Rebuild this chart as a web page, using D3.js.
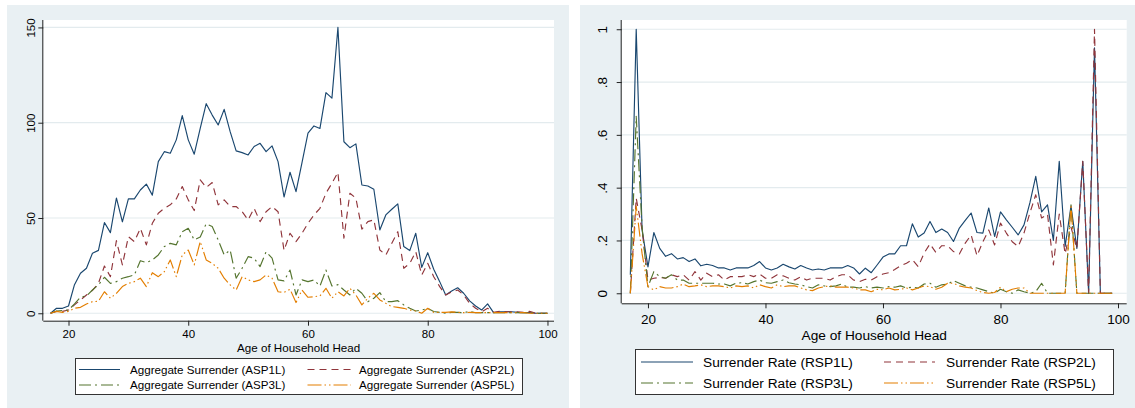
<!DOCTYPE html>
<html>
<head>
<meta charset="utf-8">
<script src="https://cdn.jsdelivr.net/npm/d3@7"></script>
<style>
html,body{margin:0;padding:0;background:#fff;}
svg{display:block;}
</style>
</head>
<body>
<svg id="chart" width="1135" height="408"></svg>
<script>
// ---------------- DATA ----------------
const agesL = [17,18,19,20,21,22,23,24,25,26,27,28,29,30,31,32,33,34,35,36,37,38,39,40,41,42,43,44,45,46,47,48,49,50,51,52,53,54,55,56,57,58,59,60,61,62,63,64,65,66,67,68,69,70,71,72,73,74,75,76,77,78,79,80,81,82,83,84,85,86,87,88,89,90,91,92,93,94,95,96,97,98,99,100];
const ASP1L = [0,2.6,2.6,3.8,15,21,23.6,31.5,33,47.6,42.3,60.5,48,
  60,60,64.7,67.8,62,79.6,84.8,84,91,103.7,
  91,83.5,97,110,104,98.8,107,95.3,85.2,84.3,
  83.1,87.5,89.2,84.8,87.8,79.6,61,74,63.8,79,
  94.5,98.3,97,115.8,112.9,150,90,86.9,88.9,67.3,
  66.8,65.1,43.7,51.6,54.6,57.4,35,32.9,42,24.1,
  31.8,23.1,16.6,9.6,11.7,13.4,10.5,6.5,3.8,1.7,
  4.9,0.3,0.8,0.8,0.8,0.5,0.3,0.3,0,0,0];
const ASP2L = [0,1,1,1.7,4.4,7,9.6,12,15.7,24.8,19.2,38.1,25.4,
  40.2,37.6,44.6,35.9,47.2,52.5,55.1,56.9,60,66.5,
  59.5,53.9,70,66,68.6,56.9,59.5,56,56,53.3,
  49,55.1,48.1,53.3,56,53.3,33,42,37.6,42,
  47.2,51.6,55.1,63,68.2,74,39.4,63,60.4,44.1,
  48.1,49,33.2,30.6,36.7,42.8,23.6,26.2,32.3,20.1,
  26.2,19.2,14,9.6,11.3,12.2,9.6,5.2,2.6,0.8,
  2.6,0.5,1,0.8,0.8,0.8,0.5,1,0,0,0];
const ASP3L = [0,1.2,1.5,1.7,4.9,8.4,9.1,12.2,14.9,18.9,15.7,16.6,18.4,
  19.2,20.1,27.6,26.6,28,30.6,35,36.7,35.9,42.8,
  44.6,38.5,40,47,45.5,38.5,30.6,33.2,18.4,23.6,
  29.7,28.9,24.5,32.3,28.9,17.5,17,22.7,9.6,17.5,
  16.6,17.5,14.3,22.7,14.3,15,12.2,9.6,13.1,10.5,
  6.1,7.9,10.8,6.1,6.1,6.6,4.4,2.6,1.2,1.7,
  2.6,0.9,0.5,0,0.5,0.5,0.3,1,0.3,0.3,
  0.3,0.3,0.3,0.3,0.3,0.3,0.3,0.3,0,0,0];
const ASP5L = [0,1,0.5,1,2.6,3.1,4.9,6.1,6.3,11.3,7.9,10.5,14,
  15.7,16.6,18.4,14,21.3,19.2,21.8,28,19.2,30.6,
  33.2,25.4,37.6,28,26.2,23.6,18.4,14.9,12.2,19.2,
  17.5,16.6,17.5,20.1,18.4,11.3,11,12.6,5.6,12.2,
  8.4,8.7,9.1,13.1,7.9,11.3,9.1,13.1,9.6,4.4,
  7.9,10.5,7,5.2,3.5,3.1,2.6,1.7,1.2,0,
  2.6,0.5,0.5,0.5,0.7,0.5,0.3,0.5,0.3,0.3,
  0.3,0.3,0.3,0.3,0.3,0.3,0.3,0,0,0,0];

const agesR = [17,18,19,20,21,22,23,24,25,26,27,28,29,30,31,32,33,34,35,36,37,38,39,40,41,42,43,44,45,46,47,48,49,50,51,52,53,54,55,56,57,58,59,60,61,62,63,64,65,66,67,68,69,70,71,72,73,74,75,76,77,78,79,80,81,82,83,84,85,86,87,88,89,90,91,92,93,94,95,96,97,98,99];
const RSP1L = [0.07,1.0,0.24,0.10,0.23,0.17,0.14,0.15,0.13,0.135,0.12,0.13,0.104,
  0.11,0.105,0.096,0.096,0.088,0.096,0.096,0.096,0.105,0.12,
  0.096,0.088,0.096,0.11,0.10,0.092,0.105,0.096,0.088,0.092,
  0.088,0.096,0.096,0.096,0.105,0.096,0.073,0.095,0.078,0.107,
  0.137,0.149,0.149,0.18,0.18,0.263,0.213,0.228,0.272,0.23,
  0.243,0.23,0.196,0.247,0.276,0.304,0.23,0.228,0.323,0.215,
  0.308,0.278,0.25,0.221,0.259,0.342,0.443,0.308,0.335,0.2,
  0.5,0.177,0.33,0.17,0.5,0,0.93,0,0,0];
const RSP2L = [0,0.36,0.24,0.05,0.057,0.06,0.057,0.07,0.063,0.07,0.05,0.082,0.05,
  0.076,0.063,0.07,0.05,0.063,0.063,0.063,0.07,0.063,0.073,
  0.057,0.057,0.07,0.066,0.057,0.05,0.063,0.05,0.057,0.057,
  0.057,0.05,0.063,0.07,0.07,0.05,0.044,0.053,0.05,0.063,
  0.073,0.078,0.09,0.104,0.114,0.127,0.101,0.152,0.187,0.155,
  0.18,0.18,0.158,0.149,0.19,0.221,0.142,0.195,0.24,0.183,
  0.266,0.228,0.195,0.177,0.228,0.304,0.373,0.285,0.3,0.107,
  0.3,0.15,0.25,0.17,0.5,0,1.0,0,0,0];
const RSP3L = [0,0.67,0.25,0.025,0.082,0.063,0.057,0.07,0.05,0.05,0.038,0.038,0.038,
  0.038,0.038,0.035,0.035,0.028,0.038,0.04,0.035,0.044,0.05,
  0.04,0.038,0.044,0.05,0.04,0.035,0.032,0.025,0.02,0.032,
  0.028,0.025,0.028,0.035,0.023,0.023,0.02,0.025,0.02,0.023,
  0.02,0.025,0.023,0.028,0.02,0.023,0.02,0.035,0.038,0.023,
  0.032,0.035,0.048,0.038,0.028,0.023,0.02,0.013,0.006,0,
  0.015,0.006,0,0.013,0.006,0,0.006,0.038,0,0,
  0,0,0.335,0,0,0,0,0,0,0];
const RSP5L = [0,0.33,0.15,0.025,0.013,0.025,0.02,0.02,0.025,0.035,0.025,0.028,0.032,
  0.025,0.028,0.028,0.025,0.02,0.028,0.025,0.028,0.02,0.032,
  0.025,0.02,0.032,0.025,0.028,0.028,0.02,0.013,0.01,0.02,
  0.025,0.028,0.023,0.023,0.023,0.02,0.013,0.013,0.006,0.015,
  0.013,0.02,0.013,0.015,0.02,0.013,0.02,0.028,0.025,0.015,
  0.023,0.038,0.038,0.028,0.023,0.02,0.01,0.003,0,0.003,
  0.023,0.006,0.015,0.02,0.02,0,0,0,0,0,
  0,0,0.335,0,0,0,0,0,0,0];

const xTicks = [20,40,60,80,100];
const yTicksL = [0,50,100,150];
const yTickLabelsL = ["0","50","100","150"];
const yTicksR = [0,0.2,0.4,0.6,0.8,1];
const yTickLabelsR = ["0",".2",".4",".6",".8","1"];
const xTitle = "Age of Household Head";
const labelsL = ["Aggregate Surrender (ASP1L)","Aggregate Surrender (ASP2L)","Aggregate Surrender (ASP3L)","Aggregate Surrender (ASP5L)"];
const labelsR = ["Surrender Rate (RSP1L)","Surrender Rate (RSP2L)","Surrender Rate (RSP3L)","Surrender Rate (RSP5L)"];

// ---------------- STYLE ----------------
const colors = ["#1a476f","#90353b","#55752f","#e37e00"];
const dashes = [null,"7,5","12,4,2,4","14,3,1.5,3,1.5,3"];
const FONT = "'Liberation Sans', Arial, sans-serif";
const BG = "#e9f0f3";
const GRID = "#e3ebee";

const svg = d3.select("#chart");

function drawPanel(o){
  const g = svg.append("g");
  g.append("rect").attr("x",o.bg[0]).attr("y",o.bg[1]).attr("width",o.bg[2]).attr("height",o.bg[3]).attr("fill",BG);
  const x = d3.scaleLinear().domain(o.xDom).range([o.pl, o.pr]);
  const y = d3.scaleLinear().domain(o.yDom).range([o.pb, o.pt]);
  g.append("rect").attr("x",o.pl).attr("y",o.pt).attr("width",o.pr-o.pl).attr("height",o.pb-o.pt).attr("fill","#fff");
  // grid
  g.selectAll(".grid").data(o.yTicks).enter().append("line")
    .attr("x1",o.pl).attr("x2",o.pr).attr("y1",d=>y(d)).attr("y2",d=>y(d))
    .attr("stroke",GRID).attr("stroke-width",1.2);
  // lines
  const line = d3.line().x((d,i)=>x(o.ages[i])).y(d=>y(d));
  o.series.forEach((s,k)=>{
    g.append("path").datum(s).attr("d",line).attr("fill","none")
      .attr("stroke",colors[k]).attr("stroke-width",1.15)
      .attr("stroke-linejoin","round")
      .attr("stroke-dasharray",dashes[k]);
  });
  // axes
  const ax = d3.axisBottom(x).tickValues(xTicks).tickSize(o.tick).tickPadding(o.xPad).tickFormat(d3.format("d"));
  const gx = g.append("g").attr("transform",`translate(0,${o.pb})`).call(ax);
  gx.select(".domain").attr("d",`M${o.pl},0.5H${o.pr}`).attr("stroke","#222");
  gx.selectAll(".tick line").attr("stroke","#222");
  gx.selectAll("text").attr("font-family",FONT).attr("font-size",o.tickFont).attr("fill","#000");
  const ay = d3.axisLeft(y).tickValues(o.yTicks).tickSize(o.tick).tickPadding(3)
    .tickFormat((d,i)=>o.yLabels[i]);
  const gy = g.append("g").attr("transform",`translate(${o.pl},0)`).call(ay);
  gy.select(".domain").attr("d",`M-0.5,${o.pt}V${o.pb}`).attr("stroke","#222");
  gy.selectAll(".tick line").attr("stroke","#222");
  gy.selectAll("text").attr("font-family",FONT).attr("font-size",o.tickFont).attr("fill","#000")
    .attr("text-anchor","middle").attr("dy",0)
    .attr("transform",`translate(${o.yLabX - o.pl},0) rotate(-90)`).attr("x",0).attr("y",0);
  // x title
  g.append("text").attr("x",(o.pl+o.pr)/2).attr("y",o.titleY).attr("text-anchor","middle")
    .attr("font-family",FONT).attr("font-size",o.titleFont).attr("fill","#000").text(xTitle);
  // legend
  const L = o.leg;
  g.append("rect").attr("x",L.x0+0.5).attr("y",L.y0+0.5).attr("width",L.x1-L.x0).attr("height",L.y1-L.y0)
    .attr("fill","#fff").attr("stroke","#333").attr("stroke-width",1);
  o.labels.forEach((lab,k)=>{
    const col = k%2, row = Math.floor(k/2);
    const yy = L.rows[row];
    g.append("line").attr("x1",L.s0[col]).attr("x2",L.s1[col]).attr("y1",yy).attr("y2",yy)
      .attr("stroke",colors[k]).attr("stroke-width",1.15).attr("stroke-dasharray",dashes[k]);
    g.append("text").attr("x",L.tx[col]).attr("y",yy).attr("dy","0.36em")
      .attr("font-family",FONT).attr("font-size",L.font).attr("fill","#000").text(lab);
  });
}

drawPanel({
  bg:[7,5,562,403],
  pl:43.3, pr:554, pt:20, pb:320.7,
  xDom:[15.79,101.09], yDom:[-3.9,153.9],
  ages:agesL, series:[ASP1L,ASP2L,ASP3L,ASP5L],
  yTicks:yTicksL, yLabels:yTickLabelsL,
  tick:5, xPad:4.5, tickFont:"11.5px", yLabX:34.5,
  titleY:352, titleFont:"11.6px",
  labels:labelsL,
  leg:{x0:75,x1:522,y0:358,y1:394,rows:[369.5,385],s0:[79,307.5],s1:[120,351],tx:[130,359],font:"11.6px"}
});
drawPanel({
  bg:[580,5,555,403],
  pl:621.7, pr:1126.7, pt:20, pb:303.3,
  xDom:[15.53,101.48], yDom:[-0.038,1.035],
  ages:agesR, series:[RSP1L,RSP2L,RSP3L,RSP5L],
  yTicks:yTicksR, yLabels:yTickLabelsR,
  tick:5, xPad:6, tickFont:"13.5px", yLabX:606.5,
  titleY:339.5, titleFont:"13.7px",
  labels:labelsR,
  leg:{x0:635,x1:1113,y0:349,y1:394,rows:[362,383],s0:[641,884],s1:[693,935],tx:[703,946],font:"13.7px"}
});
</script>
</body>
</html>
